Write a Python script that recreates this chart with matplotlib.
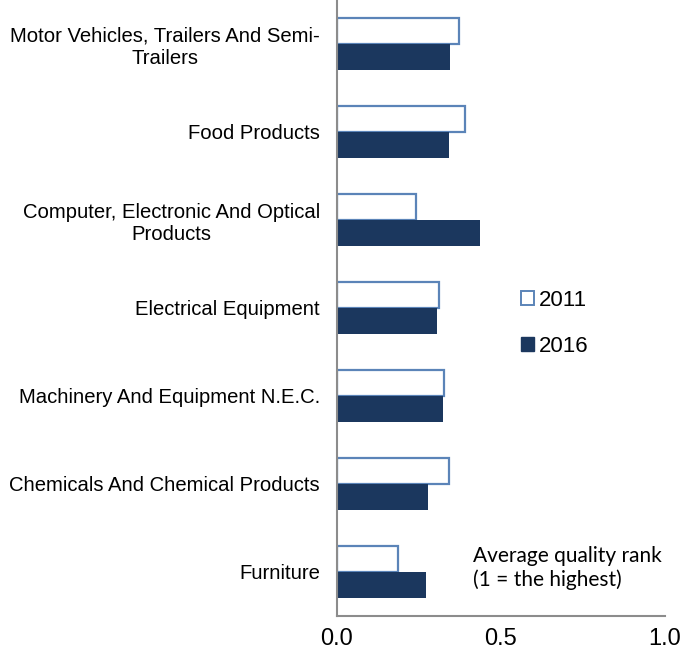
import matplotlib
matplotlib.use("Agg")
import matplotlib.pyplot as plt
from matplotlib.patches import Patch
import numpy as np

categories = [
    "Motor Vehicles, Trailers And Semi-\nTrailers",
    "Food Products",
    "Computer, Electronic And Optical\nProducts",
    "Electrical Equipment",
    "Machinery And Equipment N.E.C.",
    "Chemicals And Chemical Products",
    "Furniture",
]
vals_2011 = [0.372, 0.392, 0.243, 0.312, 0.328, 0.341, 0.188]
vals_2016 = [0.344, 0.343, 0.438, 0.305, 0.323, 0.277, 0.271]
xticks = [0.0, 0.5, 1.0]

navy = "#1B375E"
steel = "#5B84B8"
gray = "#8C8C8C"

plt.rcParams["font.family"] = ["Liberation Sans", "DejaVu Sans"]

fig = plt.figure(figsize=(7.0, 6.6), dpi=100)
ax = fig.add_axes([0.481, 0.067, 0.469, 0.933])

y = np.arange(len(categories))
h = 0.295
ax.barh(y - h / 2, vals_2011, height=h, color="white", edgecolor=steel, linewidth=1.6)
ax.barh(y + h / 2, vals_2016, height=h, color=navy, edgecolor=navy, linewidth=0)

ax.set_ylim(len(categories) - 0.5, -0.5)
ax.set_xlim(0, 1.0)
ax.set_yticks(y)
ax.set_yticklabels(categories, fontsize=14.6, multialignment="center", linespacing=1.2)
ax.set_xticks(xticks)
ax.set_xticklabels([f"{t:.1f}" for t in xticks], fontsize=17)
ax.tick_params(axis="y", length=0, pad=12)
ax.tick_params(axis="x", length=0, pad=9)

for s in ["top", "right"]:
    ax.spines[s].set_visible(False)
for s in ["left", "bottom"]:
    ax.spines[s].set_color(gray)
    ax.spines[s].set_linewidth(1.5)

handles = [Patch(facecolor="white", edgecolor=steel, linewidth=1.4, label="2011"),
           Patch(facecolor=navy, edgecolor=navy, label="2016")]
ax.legend(handles=handles, loc="center left", bbox_to_anchor=(0.5, 0.475),
          frameon=False, fontsize=16, handlelength=0.6, handleheight=0.6,
          handletextpad=0.2, labelspacing=1.1)

ax.text(0.415, 0.078, "Average quality rank\n(1 = the highest)", transform=ax.transAxes,
        fontsize=15, family=["Lato", "DejaVu Sans"], va="center", ha="left",
        linespacing=1.2)

fig.savefig("out.png", dpi=100)
